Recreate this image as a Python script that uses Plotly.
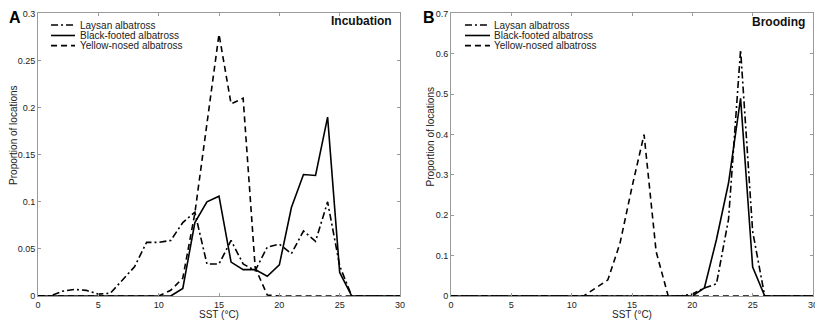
import plotly.graph_objects as go

sst = list(range(0, 31))

# Panel A: Incubation
laysan_inc = [0, 0, 0.005, 0.007, 0.006, 0.002, 0.003, 0.017, 0.031, 0.057, 0.057, 0.059, 0.078, 0.089,
              0.034, 0.034, 0.059, 0.034, 0.027, 0.052, 0.055, 0.045, 0.069, 0.058, 0.100, 0.032,
              0, 0, 0, 0, 0]
black_inc = [0, 0, 0, 0, 0, 0, 0, 0, 0, 0, 0, 0, 0.008, 0.078, 0.100, 0.106, 0.036, 0.028, 0.028, 0.021,
             0.033, 0.094, 0.129, 0.128, 0.190, 0.025, 0, 0, 0, 0, 0]
yellow_inc = [0, 0, 0, 0, 0, 0, 0, 0, 0, 0, 0, 0.006, 0.019, 0.088, 0.185, 0.278, 0.204, 0.210, 0.030,
              0.001, 0, 0, 0, 0, 0, 0, 0, 0, 0, 0, 0]

# Panel B: Brooding
laysan_br = [0] * 20 + [0.005, 0.020, 0.030, 0.190, 0.610, 0.160, 0, 0, 0, 0, 0]
black_br = [0] * 21 + [0.020, 0.140, 0.280, 0.490, 0.072, 0, 0, 0, 0, 0]
yellow_br = [0] * 12 + [0.020, 0.040, 0.130, 0.270, 0.400, 0.110, 0] + [0] * 12

series_names = ["Laysan albatross", "Black-footed albatross", "Yellow-nosed albatross"]
dash_styles = ["7px,3px,2px,3px", "solid", "6px,4px"]

x_ticks = [0, 5, 10, 15, 20, 25, 30]
y_ticks_a = [0, 0.05, 0.1, 0.15, 0.2, 0.25, 0.3]
y_ticks_a_text = ["0", "0.05", "0.1", "0.15", "0.2", "0.25", "0.3"]
y_ticks_b = [0, 0.1, 0.2, 0.3, 0.4, 0.5, 0.6, 0.7]
y_ticks_b_text = ["0", "0.1", "0.2", "0.3", "0.4", "0.5", "0.6", "0.7"]

FONT = "Liberation Sans, Arial, sans-serif"
LINE_W = 1.6

fig = go.Figure()

for name, ys, dash in zip(series_names, [laysan_inc, black_inc, yellow_inc], dash_styles):
    fig.add_trace(go.Scatter(x=sst, y=ys, mode="lines", name=name, showlegend=False,
                             line=dict(color="black", width=LINE_W, dash=dash),
                             xaxis="x", yaxis="y"))
for name, ys, dash in zip(series_names, [laysan_br, black_br, yellow_br], dash_styles):
    fig.add_trace(go.Scatter(x=sst, y=ys, mode="lines", name=name, showlegend=False,
                             line=dict(color="black", width=LINE_W, dash=dash),
                             xaxis="x2", yaxis="y2"))

axis_common = dict(showgrid=False, zeroline=False, showline=True, linecolor="#9a9a9a", linewidth=1,
                   mirror="ticks", ticks="inside", ticklen=3, tickcolor="#9a9a9a", automargin=False,
                   ticklabeloverflow="allow",
                   tickfont=dict(family=FONT, size=9, color="#222"))

# Legend drawn inside each panel (sample line + label)
legend_rows_y = [0.946, 0.913, 0.881]
legend_panels = [(0.0528, 0.0822, 0.0859), (0.5607, 0.5914, 0.5939)]
shapes = []
annotations = []
for (lx0, lx1, tx) in legend_panels:
    for name, dash, yy in zip(series_names, dash_styles, legend_rows_y):
        shapes.append(dict(type="line", xref="paper", yref="paper", x0=lx0, x1=lx1, y0=yy, y1=yy,
                           line=dict(color="black", width=LINE_W, dash=dash)))
        annotations.append(dict(text=name, x=tx, y=yy, xref="paper", yref="paper",
                                xanchor="left", yanchor="middle", showarrow=False,
                                font=dict(size=10, family=FONT, color="#222")))

title_font = dict(size=10, family=FONT, color="#222")
annotations += [
    dict(text="<b>Incubation</b>", x=0.4735, y=0.959, xref="paper", yref="paper",
         xanchor="right", yanchor="middle", showarrow=False, font=dict(size=12, family=FONT, color="#111")),
    dict(text="<b>Brooding</b>", x=0.980, y=0.956, xref="paper", yref="paper",
         xanchor="right", yanchor="middle", showarrow=False, font=dict(size=12, family=FONT, color="#111")),
    dict(text="<b>A</b>", x=0.0, y=1.0, xref="paper", yref="paper", borderpad=0,
         xanchor="left", yanchor="top", showarrow=False, font=dict(size=16, family=FONT, color="black")),
    dict(text="<b>B</b>", x=0.5085, y=1.0, xref="paper", yref="paper", borderpad=0,
         xanchor="left", yanchor="top", showarrow=False, font=dict(size=16, family=FONT, color="black")),
    # axis titles
    dict(text="SST (°C)", x=0.259, y=0.0285, xref="paper", yref="paper",
         xanchor="center", yanchor="middle", showarrow=False, font=title_font),
    dict(text="SST (°C)", x=0.7657, y=0.0285, xref="paper", yref="paper",
         xanchor="center", yanchor="middle", showarrow=False, font=title_font),
    dict(text="Proportion of locations", x=0.006, y=0.598, xref="paper", yref="paper", textangle=-90,
         xanchor="center", yanchor="middle", showarrow=False, font=title_font),
    dict(text="Proportion of locations", x=0.5185, y=0.592, xref="paper", yref="paper", textangle=-90,
         xanchor="center", yanchor="middle", showarrow=False, font=title_font),
]

fig.update_layout(
    width=815, height=316,
    margin=dict(l=0, r=0, t=0, b=0, autoexpand=False),
    paper_bgcolor="white", plot_bgcolor="white",
    font=dict(family=FONT, color="#222"),
    showlegend=False,
    xaxis=dict(domain=[0.0368, 0.481], range=[0, 30], tickvals=x_ticks, anchor="y", **axis_common),
    yaxis=dict(domain=[0.0886, 0.9826], range=[0, 0.3], tickvals=y_ticks_a, ticktext=y_ticks_a_text,
               anchor="x", **axis_common),
    xaxis2=dict(domain=[0.5436, 0.9877], range=[0, 30], tickvals=x_ticks, anchor="y2", **axis_common),
    yaxis2=dict(domain=[0.0886, 0.9826], range=[0, 0.7], tickvals=y_ticks_b, ticktext=y_ticks_b_text,
                anchor="x2", **axis_common),
    shapes=shapes,
    annotations=annotations,
)

fig.write_html("out.html")
